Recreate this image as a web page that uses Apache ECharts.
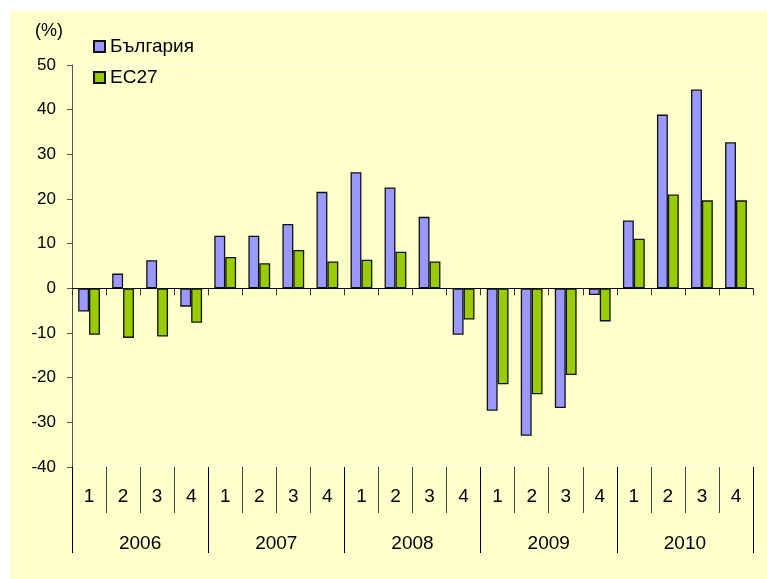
<!DOCTYPE html>
<html>
<head>
<meta charset="utf-8">
<script src="https://cdn.jsdelivr.net/npm/echarts@6/dist/echarts.min.js"></script>
<style>
  body { margin: 0; background: #ffffff; }
  #chart { position: absolute; left: 10px; top: 11px; width: 757px; height: 568px; }
</style>
</head>
<body>
<div id="chart"></div>
<script>
var years = ['2006', '2007', '2008', '2009', '2010'];
var quarters = ['1', '2', '3', '4'];
var bulgaria = [-5.2, 3.3, 6.3, -4.1, 11.8, 11.8, 14.4, 21.6, 26.0, 22.6, 16.0, -10.4, -27.4, -33.0, -26.8, -1.5, 15.2, 38.9, 44.5, 32.7];
var eu27 = [-10.4, -11.1, -10.8, -7.7, 7.0, 5.6, 8.6, 6.0, 6.4, 8.2, 6.0, -7.0, -21.5, -23.7, -19.4, -7.4, 11.1, 21.0, 19.7, 19.7];

// категории: година + тримесечие
var periods = [];
var quarterLabels = [];
years.forEach(function (y)
{
    quarters.forEach(function (q)
    {
        periods.push(y + '-' + q);
        quarterLabels.push(q);
    });
});

var labelFont = '"Liberation Sans", Arial, sans-serif';

var myChart = echarts.init(document.getElementById('chart'));
var option =
{
    backgroundColor : '#FFFFCC',
    animation : false,
    legend :
    {
        orient : 'vertical',
        left : 78,
        top : 21,
        itemWidth : 11,
        itemHeight : 11,
        itemGap : 12,
        icon : 'rect',
        textStyle :
        {
            fontFamily : labelFont,
            fontSize : 19,
            color : '#000'
        },
        data : ['България', 'ЕС27']
    },
    grid :
    {
        left : 62,
        right : 14,
        top : 54,
        bottom : 112,
        show : true,
        backgroundColor : '#FFFFCC',
        borderColor : '#FFFFF4',
        borderWidth : 1
    },
    xAxis : [
        {
            type : 'category',
            data : periods,
            axisLine : { onZero : true, lineStyle : { color : '#000', width : 1 } },
            axisTick : { show : true, interval : 0, length : 7, lineStyle : { color : '#333' } },
            axisLabel : { show : false },
            splitLine : { show : false }
        },
        {
            type : 'category',
            data : quarterLabels,
            position : 'bottom',
            axisLine : { show : false, onZero : false },
            axisTick : { show : true, interval : 0, length : 46, lineStyle : { color : '#444' } },
            axisLabel :
            {
                interval : 0,
                margin : 20,
                fontFamily : labelFont,
                fontSize : 19,
                color : '#000'
            },
            splitLine : { show : false }
        },
        {
            type : 'category',
            data : years,
            position : 'bottom',
            axisLine : { show : false, onZero : false },
            axisTick : { show : true, interval : 0, length : 86, lineStyle : { color : '#000' } },
            axisLabel :
            {
                interval : 0,
                margin : 67,
                fontFamily : labelFont,
                fontSize : 19,
                color : '#000'
            },
            splitLine : { show : false }
        }
    ],
    yAxis :
    {
        type : 'value',
        min : -40,
        max : 50,
        interval : 10,
        name : '(%)',
        nameLocation : 'end',
        nameGap : 25,
        nameTextStyle :
        {
            fontFamily : labelFont,
            fontSize : 18,
            color : '#000',
            align : 'right',
            padding : [0, 9, 0, 0]
        },
        axisLine : { show : true, lineStyle : { color : '#555' } },
        axisTick : { show : true, length : 5, lineStyle : { color : '#555' } },
        axisLabel :
        {
            margin : 16,
            fontFamily : labelFont,
            fontSize : 17,
            color : '#000'
        },
        splitLine : { show : false }
    },
    series : [
        {
            name : 'България',
            type : 'bar',
            xAxisIndex : 0,
            data : bulgaria,
            barGap : '0%',
            barCategoryGap : '36%',
            itemStyle : { color : '#9999FF', borderColor : '#111', borderWidth : 1.3 }
        },
        {
            name : 'ЕС27',
            type : 'bar',
            xAxisIndex : 0,
            data : eu27,
            barGap : '0%',
            barCategoryGap : '36%',
            itemStyle : { color : '#99CC00', borderColor : '#111', borderWidth : 1.3 }
        }
    ]
};

myChart.setOption(option);
</script>
</body>
</html>
